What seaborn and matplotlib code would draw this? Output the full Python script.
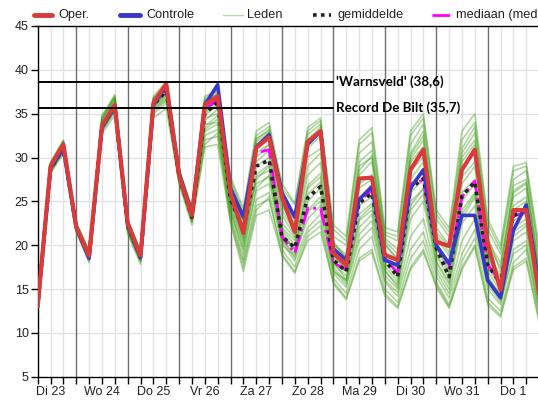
import matplotlib
matplotlib.use('agg')
import matplotlib.pyplot as plt
from matplotlib.lines import Line2D
import pandas as pd
import seaborn as sns

# uren vanaf Di 23 00:00, stappen van 6 uur
uren = list(range(6, 241, 6))
dag_labels = ['Di 23', 'Wo 24', 'Do 25', 'Vr 26', 'Za 27', 'Zo 28', 'Ma 29', 'Di 30', 'Wo 31', 'Do 1']

oper = [13.0, 29.0, 31.5, 22.1, 18.8, 33.6, 36.0, 22.5, 18.8, 36.2, 38.4, 28.0, 23.4, 36.0, 37.0, 26.0, 21.4, 31.1, 32.3, 25.5,
        21.5, 31.8, 33.0, 19.1, 17.7, 27.6, 27.7, 18.9, 18.3, 28.6, 30.9, 20.4, 19.9, 28.6, 30.9, 20.2, 14.9, 24.0, 24.0, 14.5]
controle = [13.0, 28.8, 31.0, 22.0, 18.5, 33.4, 35.8, 22.3, 18.6, 36.0, 38.2, 28.2, 23.6, 36.0, 38.3, 26.5, 23.2, 31.2, 32.6, 26.0,
            23.2, 31.5, 33.0, 19.6, 18.3, 25.2, 26.7, 18.3, 17.7, 26.5, 28.6, 20.0, 17.9, 23.4, 23.4, 16.0, 14.0, 21.7, 24.6, 15.5]
gemiddelde = [13.0, 28.7, 31.0, 22.0, 18.7, 33.6, 35.8, 22.2, 18.6, 36.0, 37.6, 27.8, 23.2, 35.0, 36.3, 25.2, 21.8, 29.0, 29.7, 21.0,
              19.7, 25.4, 26.7, 18.3, 17.0, 24.8, 25.9, 18.3, 16.4, 26.5, 27.6, 19.7, 16.4, 25.6, 27.2, 17.8, 15.6, 23.4, 24.0, 15.0]
mediaan = [13.0, 28.8, 31.2, 22.0, 18.7, 33.7, 36.0, 22.2, 18.6, 36.1, 37.8, 27.8, 23.3, 35.5, 36.6, 25.5, 21.5, 30.5, 30.9, 21.0,
           19.1, 24.2, 24.2, 18.0, 17.2, 25.0, 26.3, 18.5, 16.8, 27.0, 27.4, 20.0, 17.4, 25.5, 27.3, 17.8, 15.8, 23.3, 23.8, 15.0]

leden = [
    [13.1, 29.2, 31.8, 22.3, 19.0, 34.0, 36.4, 22.6, 18.9, 36.5, 38.6, 28.3, 23.8, 36.4, 37.3, 26.8, 22.0, 32.0, 33.2, 25.8,
     22.4, 32.6, 33.8, 20.4, 18.6, 29.5, 30.8, 20.8, 19.5, 30.2, 32.5, 21.5, 19.8, 30.5, 32.8, 21.0, 17.0, 26.8, 27.5, 16.8],
    [12.9, 28.4, 30.6, 21.6, 18.2, 33.0, 35.2, 21.7, 18.1, 35.2, 36.5, 27.4, 22.8, 32.5, 33.2, 23.4, 18.4, 25.2, 26.0, 20.4,
     18.2, 22.0, 23.5, 16.8, 15.2, 20.5, 22.0, 15.8, 14.2, 19.5, 21.5, 16.5, 14.0, 19.0, 21.8, 15.0, 13.2, 19.5, 20.5, 12.5],
    [13.0, 28.9, 31.2, 22.0, 18.8, 33.8, 36.1, 22.2, 18.7, 36.0, 37.9, 27.9, 23.3, 35.2, 36.6, 25.5, 21.0, 29.5, 30.8, 21.5,
     19.5, 25.8, 27.2, 18.6, 17.4, 25.5, 26.2, 18.8, 16.8, 27.0, 28.5, 19.6, 17.5, 26.0, 27.5, 18.0, 15.8, 23.6, 24.2, 15.2],
    [13.3, 29.5, 32.0, 22.6, 19.4, 34.8, 37.0, 23.0, 19.3, 36.8, 38.2, 28.6, 24.2, 36.8, 37.5, 27.5, 23.8, 32.5, 33.5, 26.5,
     24.6, 33.0, 34.2, 21.8, 20.5, 31.5, 32.8, 21.5, 21.0, 32.5, 34.5, 23.5, 21.5, 32.0, 34.0, 22.5, 19.5, 28.5, 29.0, 19.0],
    [12.8, 28.2, 30.4, 21.5, 18.0, 32.7, 34.8, 21.3, 17.8, 34.5, 35.6, 27.0, 22.3, 31.2, 31.5, 22.5, 17.0, 23.4, 24.0, 19.0,
     17.0, 20.5, 21.5, 15.8, 14.0, 18.5, 19.5, 14.5, 13.0, 17.5, 19.5, 15.2, 12.8, 17.5, 20.0, 13.5, 12.0, 17.5, 18.5, 11.5],
    [13.0, 28.6, 31.0, 21.9, 18.6, 33.4, 35.7, 22.0, 18.5, 35.8, 37.4, 27.7, 23.1, 34.2, 35.5, 24.6, 20.2, 28.0, 29.2, 20.6,
     19.0, 24.0, 25.5, 17.8, 16.5, 23.5, 24.8, 17.6, 15.8, 25.0, 26.4, 18.8, 16.2, 24.0, 26.0, 17.0, 14.8, 22.0, 23.0, 14.2],
    [13.2, 29.0, 31.6, 22.2, 19.1, 34.4, 36.8, 22.8, 19.0, 36.6, 38.0, 28.4, 23.9, 33.5, 34.8, 25.0, 21.8, 30.5, 31.5, 23.5,
     21.0, 30.0, 31.0, 19.5, 18.0, 28.0, 29.5, 20.0, 18.5, 29.5, 31.2, 20.8, 18.8, 28.8, 30.5, 19.2, 16.5, 25.5, 26.5, 16.2],
    [12.9, 28.7, 31.1, 21.8, 18.5, 33.2, 35.5, 21.9, 18.3, 35.5, 36.8, 27.5, 22.9, 35.8, 36.2, 26.2, 22.8, 27.0, 27.8, 22.0,
     20.5, 28.0, 29.4, 18.2, 16.0, 22.0, 23.5, 16.5, 15.0, 23.0, 25.0, 17.5, 15.0, 22.5, 24.5, 16.0, 13.8, 20.5, 21.5, 13.2],
    [13.1, 29.1, 31.4, 22.1, 18.9, 33.9, 36.2, 22.4, 18.8, 36.3, 37.2, 28.0, 23.4, 32.0, 32.4, 23.0, 18.0, 24.5, 25.2, 19.5,
     17.5, 21.5, 22.8, 16.2, 14.5, 19.5, 21.0, 15.0, 13.5, 18.5, 20.5, 15.8, 13.2, 18.2, 20.8, 14.0, 12.5, 18.0, 19.5, 12.0],
    [13.4, 29.4, 31.9, 22.4, 19.2, 34.6, 37.2, 22.9, 19.4, 37.0, 38.7, 28.8, 24.0, 37.0, 37.6, 27.8, 24.2, 33.0, 34.0, 27.0,
     24.8, 33.4, 34.5, 22.3, 21.0, 32.0, 33.4, 22.0, 21.5, 33.0, 35.0, 24.0, 22.0, 33.0, 35.0, 23.0, 20.0, 29.0, 29.4, 19.8],
    [12.7, 28.3, 30.8, 21.7, 18.4, 33.1, 35.4, 21.6, 18.2, 35.0, 36.2, 27.2, 22.6, 33.8, 34.0, 23.8, 19.5, 26.2, 27.0, 21.0,
     19.8, 26.5, 27.8, 17.2, 15.5, 21.2, 22.8, 16.0, 14.6, 21.0, 23.0, 17.0, 14.5, 20.5, 23.0, 15.5, 13.5, 19.0, 20.0, 12.8],
    [13.0, 28.8, 31.3, 22.0, 18.7, 33.7, 36.0, 22.3, 18.6, 36.2, 38.0, 28.1, 23.5, 34.8, 36.0, 25.8, 21.5, 29.0, 30.0, 21.8,
     20.0, 26.8, 28.2, 18.8, 17.8, 26.5, 27.5, 19.2, 17.2, 27.5, 29.5, 20.2, 18.0, 27.0, 29.0, 18.5, 16.2, 24.5, 25.5, 15.5],
    [13.2, 29.1, 31.5, 22.3, 19.0, 34.2, 36.6, 22.5, 19.1, 36.4, 38.3, 28.2, 23.6, 36.0, 37.0, 26.5, 23.0, 31.5, 32.5, 24.5,
     22.0, 31.0, 32.5, 20.0, 19.0, 29.0, 30.0, 20.5, 19.0, 30.5, 33.0, 22.0, 20.0, 30.0, 32.0, 20.5, 18.0, 26.0, 27.0, 17.5],
    [12.8, 28.5, 30.9, 21.8, 18.4, 33.3, 35.6, 21.8, 18.4, 35.6, 37.0, 27.6, 23.0, 33.0, 33.8, 24.0, 19.0, 26.5, 28.0, 20.0,
     18.8, 23.0, 24.5, 17.0, 16.0, 22.8, 24.0, 17.0, 15.5, 24.0, 25.8, 18.2, 15.8, 23.0, 25.5, 16.5, 14.2, 21.5, 22.5, 13.8],
    [13.0, 28.9, 31.2, 22.1, 18.8, 33.6, 36.0, 22.1, 18.7, 36.0, 37.6, 27.8, 23.2, 35.0, 36.4, 25.2, 20.8, 30.0, 31.5, 22.5,
     20.8, 29.0, 30.5, 19.0, 17.0, 27.0, 28.0, 18.5, 17.8, 28.5, 30.0, 19.8, 17.0, 27.8, 29.5, 19.0, 15.5, 24.0, 25.0, 15.8],
    [13.1, 29.3, 31.7, 22.5, 19.3, 34.5, 36.9, 22.7, 19.2, 36.7, 38.5, 28.5, 24.3, 36.6, 37.2, 27.2, 23.5, 32.2, 33.0, 25.0,
     23.0, 32.0, 33.5, 21.0, 20.0, 30.5, 31.8, 21.2, 20.5, 31.5, 33.8, 23.0, 21.0, 31.0, 33.5, 21.8, 19.0, 27.5, 28.5, 18.5],
    [12.9, 28.6, 30.7, 21.7, 18.3, 33.0, 35.3, 21.5, 18.2, 35.4, 36.6, 27.3, 22.7, 31.5, 32.8, 22.8, 17.5, 24.0, 25.5, 18.8,
     16.8, 21.0, 22.2, 15.6, 13.8, 18.2, 19.2, 14.2, 12.8, 17.2, 19.2, 15.5, 13.0, 17.2, 19.8, 13.2, 11.8, 17.2, 18.2, 11.2],
    [13.0, 28.8, 31.1, 22.0, 18.6, 33.5, 35.9, 22.2, 18.5, 35.9, 37.3, 27.8, 23.2, 34.5, 35.0, 24.8, 20.5, 27.5, 29.0, 21.2,
     19.5, 25.0, 26.5, 18.0, 17.0, 24.5, 25.5, 18.0, 16.2, 26.0, 27.5, 19.0, 16.8, 25.0, 27.0, 17.5, 15.2, 22.8, 23.6, 14.8],
    [13.3, 29.3, 31.8, 22.4, 19.1, 34.3, 36.7, 22.6, 19.0, 36.6, 38.4, 28.4, 23.7, 36.2, 36.8, 26.6, 22.5, 31.8, 32.8, 24.0,
     21.5, 31.5, 33.0, 20.2, 18.5, 28.5, 30.2, 20.2, 18.2, 29.8, 32.0, 21.2, 19.2, 29.5, 31.5, 20.0, 17.5, 26.2, 27.2, 17.0],
    [12.9, 28.7, 31.0, 21.9, 18.6, 33.5, 35.8, 22.0, 18.5, 35.8, 37.1, 27.6, 23.0, 33.2, 34.4, 24.2, 19.8, 27.8, 28.5, 20.8,
     18.5, 23.8, 25.0, 17.5, 15.8, 23.0, 24.5, 17.2, 15.2, 24.5, 26.5, 18.0, 15.5, 23.5, 25.8, 16.2, 14.5, 21.0, 22.2, 13.5],
]

records = [("'Warnsveld' (38,6)", 38.6), ('Record De Bilt (35,7)', 35.7)]
legenda = ['Oper.', 'Controle', 'Leden', 'gemiddelde', 'mediaan (mediaan)']

# kleuren
ROOD = '#d93a3a'
BLAUW = '#3838c8'
GROEN = '#3a9a10'
STIP = (0, (1, 1.2))

rows = []
for i, lid in enumerate(leden):
    for t, v in zip(uren, lid):
        rows.append({'lid': i, 'uur': t, 'temp': v})
df_leden = pd.DataFrame(rows)
df_main = pd.DataFrame({'uur': uren, 'oper': oper, 'controle': controle,
                        'gemiddelde': gemiddelde, 'mediaan': mediaan})

sns.set_theme(style='white')
plt.rcParams['font.family'] = ['Liberation Sans', 'DejaVu Sans']

W, H = 538, 412
fig = plt.figure(figsize=(W / 100, H / 100), dpi=100)
ax = fig.add_axes([0.070, 0.0857, 0.932, 0.8512])

# raster
for y in range(10, 45, 5):
    ax.axhline(y, color='#e2e2e2', lw=1, zorder=0)
for t in range(6, 241, 6):
    if t % 24 == 0:
        ax.axvline(t, color='#6e6e6e', lw=1, zorder=0.5)
    else:
        ax.axvline(t, color='#e2e2e2', lw=1, zorder=0)

sns.lineplot(data=df_leden, x='uur', y='temp', units='lid', estimator=None,
             color=GROEN, alpha=0.4, lw=1.2, legend=False, ax=ax, zorder=2)
sns.lineplot(data=df_main, x='uur', y='mediaan', color='#ff00ff', lw=2,
             linestyle='-.', ax=ax, zorder=3)
sns.lineplot(data=df_main, x='uur', y='gemiddelde', color='#222222', lw=2.6,
             linestyle=STIP, ax=ax, zorder=4)
sns.lineplot(data=df_main, x='uur', y='controle', color=BLAUW, lw=2.6, ax=ax, zorder=5)
sns.lineplot(data=df_main, x='uur', y='oper', color=ROOD, lw=3, ax=ax, zorder=6)

# records
for label, val in records:
    ax.plot([6, 144], [val, val], color='black', lw=1.4, zorder=7)
    ax.text(145, val, label, fontsize=9.6, fontweight='bold', family=['Lato', 'DejaVu Sans'],
            va='center', ha='left', color='black', zorder=8)

ax.set_xlim(6, 240)
ax.set_ylim(5, 45)
ax.set_yticks(range(5, 46, 5))
ax.set_xticks(uren)
ax.set_xticklabels([dag_labels[(t - 12) // 24] if t % 24 == 12 else '' for t in uren])
ax.set_xlabel('')
ax.set_ylabel('')
ax.tick_params(axis='both', which='major', direction='out', length=5, width=1, color='black',
               labelsize=9, labelcolor='#222222', pad=1.5, bottom=True, left=True)
for side in ['left', 'bottom', 'top']:
    ax.spines[side].set_color('black')
    ax.spines[side].set_linewidth(1)
ax.spines['right'].set_visible(False)

# legenda boven de grafiek, handmatig geplaatst (loopt rechts van de rand af)
stijlen = [dict(color=ROOD, lw=3.5), dict(color=BLAUW, lw=3.5), dict(color='#b6dca6', lw=1),
           dict(color='#222222', lw=2.6, linestyle=STIP), dict(color='#ff00ff', lw=2, linestyle='-.')]
posities = [(34, 52, 58), (120, 140, 146), (223, 243, 247), (313, 331, 338), (432, 451, 456)]
ly = 1 - 15 / H
for label, stijl, (x0, x1, xt) in zip(legenda, stijlen, posities):
    fig.add_artist(Line2D([x0 / W, x1 / W], [ly, ly], transform=fig.transFigure, **stijl))
    fig.text(xt / W, ly, label, fontsize=9.2, color='#222222', va='center', ha='left')

fig.savefig('out.png', dpi=100)
